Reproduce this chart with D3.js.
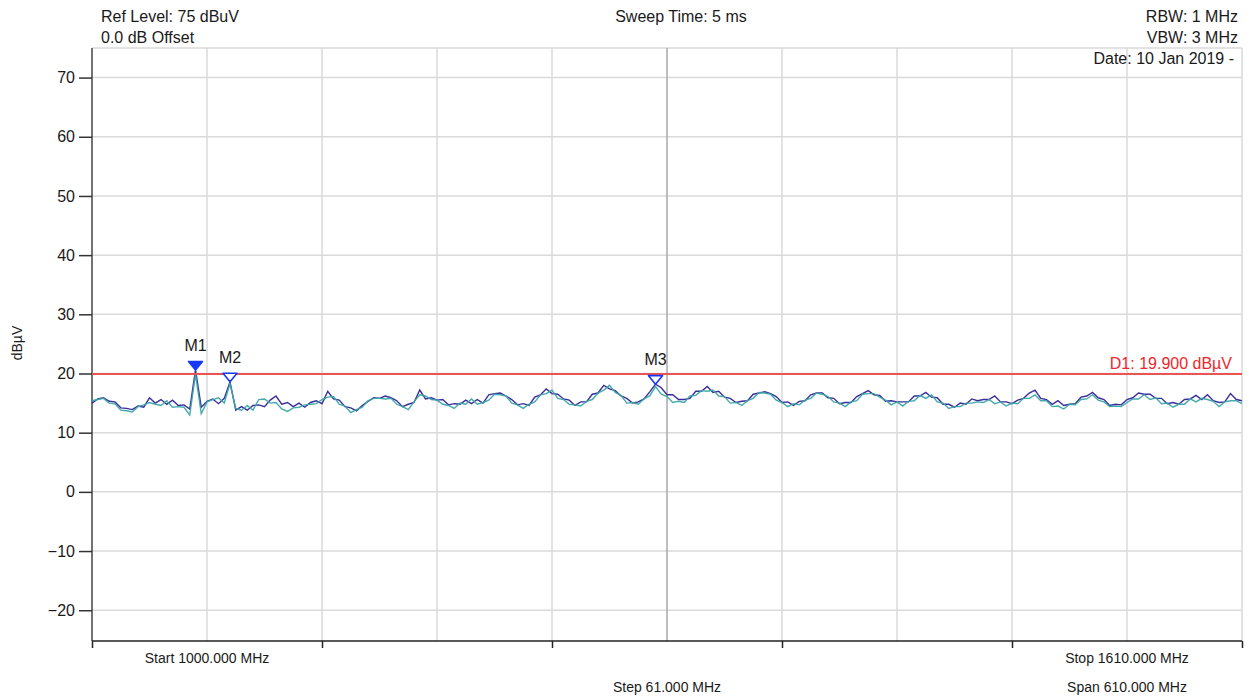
<!DOCTYPE html>
<html>
<head>
<meta charset="utf-8">
<script src="https://cdn.jsdelivr.net/npm/d3@7"></script>
<style>
  body { margin: 0; background: #fff; }
  svg text { font-family: "Liberation Sans", Arial, sans-serif; fill: #1a1a1a; }
</style>
</head>
<body>
<svg id="spectrum" width="1249" height="698"></svg>
<script>

// sweep settings
const startFreq = 1000;
const stopFreq = 1610;
const divFreq = 61;
const sweepStep = 3.05;

const yTicks = [-20, -10, 0, 10, 20, 30, 40, 50, 60, 70];

// trace 1 (dark) and trace 2 (teal), dBuV, one value per sweep point
const trace1 = [
  15.0, 15.7, 15.9, 15.3, 15.2, 14.2, 14.1, 13.9, 14.5, 14.3, 15.9, 15.0, 15.6, 14.8, 15.5, 14.6, 14.7, 14.0, 20.6, 14.3,
  15.3, 15.7, 14.9, 15.8, 18.6, 13.8, 14.4, 13.8, 14.6, 14.7, 14.4, 15.5, 16.2, 14.8, 15.1, 14.4, 15.0, 14.3, 15.1, 15.4,
  14.9, 17.0, 15.7, 15.5, 14.4, 14.2, 13.7, 14.6, 15.3, 15.9, 15.8, 16.2, 15.9, 15.4, 14.4, 14.8, 15.1, 17.2, 15.7, 15.9,
  15.5, 15.6, 14.7, 14.9, 14.8, 15.5, 14.9, 15.6, 15.0, 16.4, 16.6, 16.7, 16.2, 15.6, 14.7, 14.9, 14.6, 16.0, 16.4, 17.4,
  16.6, 16.5, 15.7, 15.5, 14.6, 15.2, 15.2, 16.5, 16.7, 18.0, 17.4, 17.1, 16.2, 15.8, 15.0, 15.2, 15.7, 16.9, 18.2, 17.6,
  16.4, 16.4, 15.6, 15.6, 15.8, 17.0, 17.0, 17.8, 16.8, 17.0, 16.0, 15.8, 15.1, 15.3, 15.4, 16.5, 16.7, 16.9, 16.6, 16.1,
  15.1, 15.2, 14.6, 15.3, 15.4, 16.4, 16.7, 16.7, 15.9, 15.8, 14.9, 15.1, 15.1, 16.1, 16.6, 17.1, 16.4, 16.3, 15.3, 15.4,
  15.2, 15.2, 15.2, 16.2, 16.2, 16.8, 16.0, 15.9, 14.8, 14.8, 14.3, 15.0, 14.8, 15.7, 15.4, 15.6, 15.6, 16.2, 15.2, 15.2,
  14.9, 15.5, 15.8, 16.7, 17.2, 15.8, 15.6, 14.8, 15.4, 14.6, 14.8, 14.9, 16.0, 16.2, 16.8, 15.9, 15.6, 14.6, 14.8, 14.7,
  15.6, 15.9, 16.7, 16.5, 16.5, 15.8, 15.8, 14.9, 15.1, 14.8, 15.6, 15.7, 16.3, 15.6, 16.4, 15.4, 15.1, 15.2, 16.6, 15.6,
  15.4
];

const trace2 = [
  15.4, 15.6, 15.8, 15.0, 14.9, 13.8, 13.7, 13.5, 14.4, 14.7, 15.1, 14.8, 14.6, 15.4, 14.3, 14.4, 14.3, 13.0, 19.9, 13.2,
  15.2, 15.6, 15.9, 15.0, 18.3, 14.1, 13.8, 14.6, 13.8, 15.6, 15.7, 15.0, 15.1, 14.0, 13.6, 14.2, 14.3, 14.7, 14.8, 14.9,
  15.6, 16.0, 16.1, 14.8, 14.5, 13.4, 13.9, 14.3, 15.4, 15.8, 15.8, 15.7, 15.8, 14.8, 14.4, 13.9, 15.2, 16.4, 16.2, 15.6,
  15.5, 14.8, 14.6, 14.1, 15.0, 14.8, 15.7, 14.8, 15.1, 15.5, 16.5, 16.4, 16.2, 15.0, 14.7, 14.1, 14.8, 15.2, 16.4, 16.6,
  17.2, 15.8, 15.6, 14.8, 14.7, 14.5, 15.3, 15.6, 16.7, 17.2, 18.0, 16.8, 16.3, 15.0, 15.1, 14.8, 15.7, 16.2, 17.8, 16.5,
  16.1, 15.1, 15.3, 15.1, 16.2, 16.3, 17.1, 17.0, 17.2, 16.2, 16.1, 15.0, 15.1, 14.6, 15.4, 15.8, 16.8, 16.7, 16.5, 15.5,
  15.1, 14.4, 14.9, 14.7, 15.5, 15.8, 16.7, 16.5, 16.1, 15.2, 15.0, 14.4, 15.2, 15.4, 16.5, 16.6, 16.6, 16.0, 15.5, 14.7,
  15.2, 14.5, 15.3, 15.4, 16.3, 15.8, 16.4, 15.2, 15.0, 14.1, 14.4, 14.4, 15.0, 15.0, 15.2, 15.1, 15.6, 14.9, 15.2, 14.5,
  15.0, 14.9, 15.8, 15.8, 16.4, 15.4, 15.4, 14.4, 14.5, 14.0, 14.8, 14.7, 15.6, 15.7, 16.4, 15.5, 15.2, 14.4, 14.5, 14.4,
  15.1, 15.7, 15.7, 16.4, 15.6, 15.9, 14.9, 15.0, 14.3, 14.8, 14.8, 15.7, 15.2, 15.8, 15.6, 15.3, 14.4, 15.2, 15.4, 15.4,
  14.9
];

// markers
const markerNames = ['M1', 'M2', 'M3'];
const markerFreqs = [1054.9, 1073.2, 1298.9];
const markerLevels = [20.6, 18.6, 18.2];
const markerFilled = [true, false, false];

// display line
const displayLine = 19.9;
const displayLabel = 'D1: 19.900 dBµV';

// header / footer annotations
const headerLeft = ['Ref Level: 75 dBuV', '0.0 dB Offset'];
const headerCenter = 'Sweep Time: 5 ms';
const headerRight = ['RBW: 1 MHz', 'VBW: 3 MHz', 'Date: 10 Jan 2019 -'];
const footerStart = 'Start 1000.000 MHz';
const footerStop = 'Stop 1610.000 MHz';
const footerStep = 'Step 61.000 MHz';
const footerSpan = 'Span 610.000 MHz';
const yLabel = 'dBµV';


const margin = {top: 48, right: 7, bottom: 57, left: 92};
const width = 1249 - margin.left - margin.right,
      height = 698 - margin.top - margin.bottom;

const svg = d3.select('#spectrum');
const g = svg.append('g')
             .attr('transform', 'translate(' + margin.left + ',' + margin.top + ')');

const x = d3.scaleLinear().domain([startFreq, stopFreq]).range([0, width]);
const y = d3.scaleLinear().domain([-25.2, 75]).range([height, 0]);

const gridFreqs = d3.range(11).map(i => startFreq + i * divFreq);

// grid
g.append('g')
  .selectAll('line')
  .data(yTicks)
  .join('line')
  .attr('x1', 0).attr('x2', width)
  .attr('y1', d => y(d)).attr('y2', d => y(d))
  .attr('stroke', '#dadada').attr('stroke-width', 1.5);

g.append('line')
  .attr('x1', 0).attr('x2', width).attr('y1', 0).attr('y2', 0)
  .attr('stroke', '#dadada').attr('stroke-width', 1.5);

g.append('g')
  .selectAll('line')
  .data(gridFreqs.slice(1))
  .join('line')
  .attr('x1', d => x(d)).attr('x2', d => x(d))
  .attr('y1', 0).attr('y2', height)
  .attr('stroke', (d, i) => i == 4 ? '#a8a8a8' : '#dadada')
  .attr('stroke-width', 1.5);

// y axis
const yAxis = g.append('g')
  .call(d3.axisLeft(y).tickValues(yTicks).tickSize(13).tickPadding(4));
yAxis.select('.domain').attr('stroke', '#444').attr('stroke-width', 1.5).attr('d', 'M0,0V' + height);
yAxis.selectAll('.tick line').attr('stroke', '#333').attr('stroke-width', 1.5);
yAxis.selectAll('.tick text')
  .attr('font-size', 16)
  .attr('font-family', '"Liberation Sans", Arial, sans-serif')
  .attr('fill', '#1a1a1a');

// x axis: a tick every second division, no numbers
const xAxis = g.append('g')
  .attr('transform', 'translate(0,' + height + ')')
  .call(d3.axisBottom(x).tickValues(gridFreqs.filter((d, i) => i % 2 == 0)).tickSize(7).tickFormat(''));
xAxis.select('.domain').attr('stroke', '#222').attr('stroke-width', 1.5).attr('d', 'M0,0H' + width);
xAxis.selectAll('.tick line').attr('stroke', '#222').attr('stroke-width', 1.5);

// traces
const line = d3.line()
  .x((d, i) => x(startFreq + i * sweepStep))
  .y(d => y(d));

g.append('path')
  .datum(trace1)
  .attr('fill', 'none')
  .attr('stroke', '#3a2e9c')
  .attr('stroke-width', 1.4)
  .attr('d', line);

g.append('path')
  .datum(trace2)
  .attr('fill', 'none')
  .attr('stroke', '#3aa5a8')
  .attr('stroke-width', 1.4)
  .attr('stroke-opacity', 0.95)
  .attr('d', line);

// display line D1
g.append('line')
  .attr('x1', 0).attr('x2', width)
  .attr('y1', y(displayLine)).attr('y2', y(displayLine))
  .attr('stroke', '#ec5454').attr('stroke-width', 2);

g.append('text')
  .attr('x', width - 10)
  .attr('y', y(displayLine) - 5)
  .attr('text-anchor', 'end')
  .attr('font-size', 16)
  .style('fill', '#f0262a')
  .text(displayLabel);

// markers
const markers = g.append('g')
  .selectAll('g')
  .data(markerNames)
  .join('g')
  .attr('transform', (d, i) => 'translate(' + x(markerFreqs[i]) + ',' + y(markerLevels[i]) + ')');

markers.append('path')
  .attr('d', 'M0,0L-7,-8.5L7,-8.5Z')
  .attr('fill', (d, i) => markerFilled[i] ? '#1638ff' : '#fff')
  .attr('stroke', '#1638ff')
  .attr('stroke-width', 1.6)
  .attr('stroke-linejoin', 'round');

markers.append('text')
  .attr('x', 0)
  .attr('y', -19)
  .attr('text-anchor', 'middle')
  .attr('font-size', 16)
  .text(d => d);

// header
svg.append('g')
  .selectAll('text')
  .data(headerLeft)
  .join('text')
  .attr('x', 101)
  .attr('y', (d, i) => 22 + i * 21)
  .attr('font-size', 16)
  .text(d => d);

svg.append('text')
  .attr('x', 681)
  .attr('y', 22)
  .attr('text-anchor', 'middle')
  .attr('font-size', 16)
  .text(headerCenter);

svg.append('g')
  .selectAll('text')
  .data(headerRight)
  .join('text')
  .attr('x', (d, i) => i == 2 ? 1234 : 1238)
  .attr('y', (d, i) => 22 + i * 21)
  .attr('text-anchor', 'end')
  .attr('font-size', 16)
  .text(d => d);

// footer
const footer = [
  {text: footerStart, freq: gridFreqs[1], row: 0},
  {text: footerStop, freq: gridFreqs[9], row: 0},
  {text: footerStep, freq: gridFreqs[5], row: 1},
  {text: footerSpan, freq: gridFreqs[9], row: 1}
];

svg.append('g')
  .selectAll('text')
  .data(footer)
  .join('text')
  .attr('x', d => margin.left + x(d.freq))
  .attr('y', d => 663 + d.row * 29)
  .attr('text-anchor', 'middle')
  .attr('font-size', 14)
  .text(d => d.text);

// y axis unit
svg.append('text')
  .attr('transform', 'translate(22,343) rotate(-90)')
  .attr('text-anchor', 'middle')
  .attr('font-size', 14)
  .text(yLabel);

</script>
</body>
</html>
